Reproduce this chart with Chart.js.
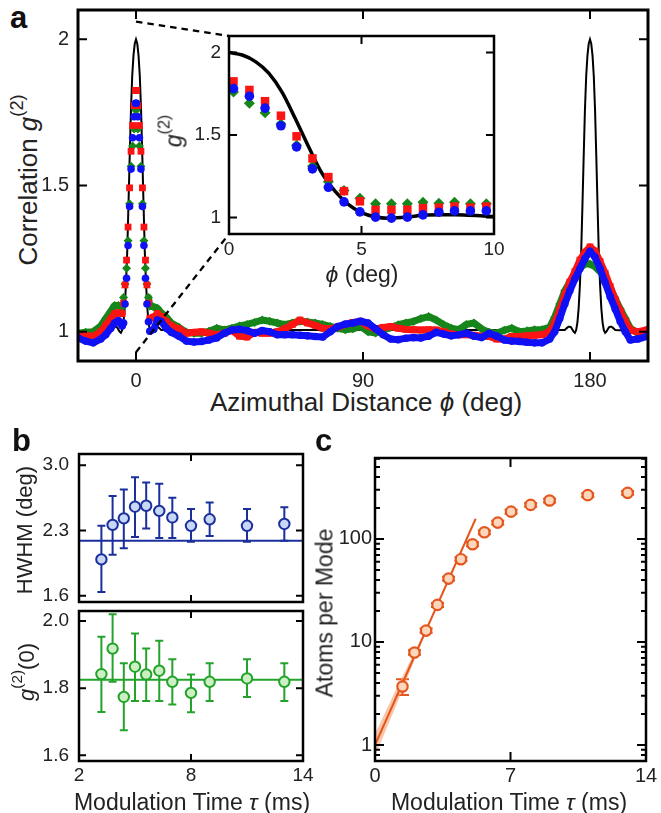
<!DOCTYPE html>
<html lang="en">
<head>
<meta charset="UTF-8">
<title>g2 correlation figure</title>
<script src="https://cdn.jsdelivr.net/npm/chart.js@4.4.0/dist/chart.umd.min.js"></script>
<style>
  body { margin: 0; background: #fff; }
  #fig { position: relative; width: 661px; height: 813px; overflow: hidden;
         font-family: "Liberation Sans", Arial, Helvetica, sans-serif; color: #222; }
  #fig canvas { position: absolute; }
  .lbl { position: absolute; white-space: nowrap; line-height: 1; }
  .rot { transform: translate(-50%, -50%) rotate(-90deg); }
  .ctr { transform: translate(-50%, -50%); }
  .panel { font-weight: bold; font-size: 31px; color: #111; }
  sup { font-size: 70%; vertical-align: 0; position: relative; top: -0.75em; }
</style>
</head>
<body>
<div id="fig">
  <canvas id="main" style="z-index:1"></canvas>
  <canvas id="inset" style="z-index:2"></canvas>
  <canvas id="hw"></canvas>
  <canvas id="g0"></canvas>
  <canvas id="atoms"></canvas>

  <div class="lbl panel" style="left:10px;top:2px">a</div>
  <div class="lbl panel" style="left:12px;top:425px">b</div>
  <div class="lbl panel" style="left:315px;top:425px">c</div>

  <div class="lbl rot" style="left:28px;top:180px;font-size:26px">Correlation <i>g</i><sup>(2)</sup></div>
  <div class="lbl ctr" style="left:366px;top:402px;font-size:26px">Azimuthal Distance <i>&#x3D5;</i> (deg)</div>
  <div class="lbl rot" style="left:174px;top:131px;font-size:23px;z-index:3"><i>g</i><sup>(2)</sup></div>
  <div class="lbl ctr" style="left:362px;top:274px;font-size:23px;z-index:3"><i>&#x3D5;</i> (deg)</div>

  <div class="lbl rot" style="left:25px;top:530px;font-size:22px">HWHM (deg)</div>
  <div class="lbl rot" style="left:27px;top:672px;font-size:22px"><i>g</i><sup>(2)</sup>(0)</div>
  <div class="lbl ctr" style="left:192px;top:802px;font-size:23px">Modulation Time <i>&tau;</i> (ms)</div>

  <div class="lbl rot" style="left:325px;top:613px;font-size:23px">Atoms per Mode</div>
  <div class="lbl ctr" style="left:509px;top:802px;font-size:23px">Modulation Time <i>&tau;</i> (ms)</div>
</div>

<script>
// ---------- panel a: main correlation trace ----------
const phiMain = [-23, -20, -17, -14, -12, -10, -8.5, -7, -5.5,
  -4.94, -4.34, -3.75, -3.15, -2.55, -1.96, -1.36, -0.77, -0.17,
  0.17, 0.77, 1.36, 1.96, 2.55, 3.15, 3.75, 4.34, 4.94,
  5.5, 7, 8.5, 10, 12, 14, 17, 20,
  23, 26, 29, 32, 35, 38, 41, 44, 47, 50, 53, 56, 59, 62, 65, 68, 71, 74, 77, 80,
  83, 86, 89, 92, 95, 98, 101, 104, 107, 110, 113, 116, 119, 122, 125, 128, 131, 134, 137, 140,
  143, 146, 149, 152, 155, 158, 161, 164,
  166, 168, 170, 172, 174, 176, 178, 180, 182, 184, 186, 188, 190, 192, 194, 196,
  199, 203];

const g2Green = [0.995, 0.998, 1.0, 1.02, 1.045, 1.07, 1.09, 1.09, 1.085,
  1.117, 1.163, 1.217, 1.311, 1.438, 1.566, 1.635, 1.693, 1.76,
  1.76, 1.693, 1.635, 1.566, 1.438, 1.311, 1.217, 1.163, 1.117,
  1.088, 1.085, 1.08, 1.065, 1.05, 1.03, 1.015, 0.998,
  0.995, 0.995, 1.002, 1.012, 1.006, 1.012, 1.02, 1.025, 1.032, 1.04, 1.036, 1.03, 1.024, 1.03, 1.036, 1.033, 1.03, 1.025, 1.018, 1.012,
  1.007, 1.01, 1.018, 1.0, 0.996, 1.005, 1.015, 1.024, 1.03, 1.035, 1.045, 1.052, 1.04, 1.024, 1.012, 1.007, 1.025, 1.03, 1.01, 0.998,
  0.995, 1.005, 1.012, 1.0, 1.003, 1.007, 1.007, 1.015,
  1.05, 1.095, 1.14, 1.17, 1.195, 1.218, 1.232, 1.232, 1.222, 1.205, 1.185, 1.15, 1.113, 1.078, 1.045, 1.012,
  0.995, 0.99];

const g2Red = [0.99, 0.988, 0.984, 1.0, 1.022, 1.045, 1.062, 1.065, 1.062,
  1.098, 1.16, 1.245, 1.358, 1.492, 1.617, 1.705, 1.773, 1.825,
  1.825, 1.773, 1.705, 1.617, 1.492, 1.358, 1.245, 1.16, 1.098,
  1.046, 1.05, 1.062, 1.052, 1.035, 1.02, 1.01, 0.995,
  0.998, 1.0, 0.995, 0.99, 0.995, 1.005, 0.985, 0.982, 0.998, 0.995, 0.995, 1.0, 1.01, 1.025, 1.04, 1.03, 1.022, 1.012, 1.01, 1.016,
  1.025, 1.032, 1.036, 1.02, 1.01, 1.015, 1.018, 1.012, 1.008, 1.007, 1.006, 1.007, 1.006, 1.0, 0.992, 0.99, 0.99, 0.988, 0.985, 0.984,
  0.975, 0.975, 0.984, 0.984, 0.986, 0.988, 0.99, 1.0,
  1.03, 1.075, 1.125, 1.17, 1.205, 1.245, 1.272, 1.29, 1.276, 1.24, 1.2, 1.155, 1.11, 1.07, 1.035, 1.005,
  1.0, 1.007];

const g2Blue = [0.979, 0.968, 0.962, 0.975, 0.99, 1.012, 1.03, 1.038, 1.02,
  1.03, 1.095, 1.183, 1.295, 1.428, 1.556, 1.663, 1.735, 1.781,
  1.781, 1.735, 1.663, 1.556, 1.428, 1.295, 1.183, 1.095, 1.034,
  1.002, 1.008, 1.04, 1.035, 1.012, 0.998, 0.985, 0.968,
  0.965, 0.967, 0.972, 0.979, 0.995, 1.006, 1.008, 1.004, 0.995, 1.004, 1.0, 0.99, 0.99, 0.99, 0.988, 0.986, 0.984, 0.982, 1.0, 1.018,
  1.026, 1.03, 1.036, 1.03, 1.01, 0.99, 0.975, 0.973, 0.978, 0.98, 0.979, 0.985, 0.998, 0.992, 0.986, 0.99, 0.995, 0.985, 0.98, 0.995,
  0.985, 0.972, 0.968, 0.967, 0.964, 0.962, 0.962, 0.975,
  1.0, 1.045, 1.095, 1.14, 1.18, 1.215, 1.25, 1.275, 1.255, 1.215, 1.168, 1.12, 1.078, 1.035, 1.0, 0.972,
  0.975, 0.985];

// theory curve (distance from peak centre in deg)
const theoryOffset = [0, 0.5, 1, 1.5, 2, 2.5, 3, 3.5, 4, 4.5, 5, 5.5, 6, 6.5, 7, 7.5, 8, 8.5, 9, 9.5, 10];
const theoryG2 = [2.0, 1.985, 1.945, 1.875, 1.76, 1.6, 1.43, 1.27, 1.16, 1.08, 1.03, 1.005, 0.996, 1.0,
  1.008, 1.015, 1.017, 1.017, 1.014, 1.01, 1.006];
const peakCenters = [0, 180];
const uncorrelated = 1;

const mainXTicks = [0, 90, 180];
const mainYTicks = [1, 1.5, 2];

// ---------- inset: zoom on the first peak ----------
const insetPhi = [0.17, 0.77, 1.36, 1.96, 2.55, 3.15, 3.75, 4.34, 4.94, 5.53, 6.13, 6.73, 7.32, 7.92, 8.51, 9.11, 9.71];
const insetGreen = [1.76, 1.693, 1.635, 1.566, 1.438, 1.311, 1.217, 1.163, 1.117, 1.083, 1.083, 1.083, 1.093, 1.087, 1.093, 1.083, 1.083];
const insetRed = [1.825, 1.773, 1.705, 1.617, 1.492, 1.358, 1.245, 1.16, 1.098, 1.046, 1.046, 1.047, 1.057, 1.06, 1.066, 1.06, 1.066];
const insetBlue = [1.781, 1.735, 1.663, 1.556, 1.428, 1.295, 1.183, 1.095, 1.034, 1.002, 0.996, 1.002, 1.016, 1.032, 1.04, 1.04, 1.04];
const insetXTicks = [0, 5, 10];
const insetYTicks = [1, 1.5, 2];
const zoomFrom = { phi: 0, top: 2.06, bottom: 0.93 };

// ---------- panel b ----------
const tauB = [3.2, 3.8, 4.4, 5.0, 5.6, 6.3, 7.0, 8.0, 9.0, 11.0, 13.0];
const hwhm = [1.99, 2.36, 2.43, 2.555, 2.565, 2.51, 2.44, 2.35, 2.42, 2.35, 2.37];
const hwhmLo = [1.64, 2.04, 2.11, 2.23, 2.32, 2.22, 2.22, 2.18, 2.24, 2.18, 2.19];
const hwhmHi = [2.35, 2.67, 2.74, 2.87, 2.815, 2.80, 2.65, 2.53, 2.60, 2.53, 2.55];
const hwhmFit = 2.19;
const g2Zero = [1.842, 1.918, 1.774, 1.864, 1.841, 1.852, 1.819, 1.786, 1.819, 1.829, 1.819];
const g2ZeroLo = [1.729, 1.819, 1.675, 1.762, 1.762, 1.762, 1.751, 1.728, 1.762, 1.774, 1.762];
const g2ZeroHi = [1.953, 2.02, 1.874, 1.963, 1.918, 1.941, 1.886, 1.841, 1.874, 1.886, 1.874];
const g2ZeroFit = 1.825;
const tauBTicks = [2, 8, 14];
const hwhmTicks = [1.6, 2.3, 3.0];
const g2ZeroTicks = [1.6, 1.8, 2.0];

// ---------- panel c ----------
const tauC = [1.42, 2.04, 2.64, 3.23, 3.80, 4.44, 5.04, 5.65, 6.34, 7.03, 8.04, 9.02, 10.99, 13.05];
const atoms = [3.7, 7.9, 12.9, 22.9, 41.2, 63.6, 88.8, 116, 144, 184, 214, 236, 266, 280];
const atomsLo = [3.06, 7.5, 12.3, 21.9, 39.4, 61, 85, 111, 138, 176, 205, 226, 255, 268];
const atomsHi = [4.35, 8.3, 13.5, 23.9, 43, 66.3, 92.6, 121, 150, 192, 223, 246, 277, 292];
const fitTau = [0, 5.2];
const fitAtoms = [1.0, 157];
const bandTau = [0, 1, 2, 2.8];
const bandLo = [0.78, 2.2, 6.4, 15.0];
const bandHi = [1.28, 3.2, 7.7, 15.6];
const tauCTicks = [0, 7, 14];
const atomsTicks = [1, 10, 100];

// ---------- layout (frame = plot box in page pixels) ----------
const FRAMES = {
  main:  { l: 78,  t: 10,  r: 648, b: 361, yW: 78, padT: 10, padR: 13, xH: 32 },
  inset: { l: 229, t: 36,  r: 494, b: 234, yW: 45, padT: 8,  padR: 14, xH: 30 },
  hw:    { l: 79,  t: 454, r: 303, b: 602, yW: 79, padT: 10, padR: 14, xH: 4 },
  g0:    { l: 79,  t: 611, r: 303, b: 761, yW: 79, padT: 6,  padR: 14, xH: 28 },
  atoms: { l: 375, t: 458, r: 646, b: 761, yW: 50, padT: 8,  padR: 14, xH: 28 }
};
const FONT = '"Liberation Sans", Arial, Helvetica, sans-serif';

function place(id) {
  const f = FRAMES[id];
  const cv = document.getElementById(id);
  cv.width = f.r - f.l + f.yW + f.padR;
  cv.height = f.b - f.t + f.padT + f.xH;
  cv.style.left = (f.l - f.yW) + 'px';
  cv.style.top = (f.t - f.padT) + 'px';
  return cv;
}

function axis(o) {
  return {
    type: o.type || 'linear', min: o.min, max: o.max,
    afterBuildTicks: s => { s.ticks = o.ticks.map(v => ({ value: v })); },
    afterFit: s => {
      if (s.isHorizontal()) s.height = o.size; else s.width = o.size;
      s.paddingLeft = s.paddingRight = s.paddingTop = s.paddingBottom = 0;
    },
    grid: { display: false, drawTicks: false },
    border: { display: false },
    ticks: {
      display: o.labels !== false, padding: o.pad, color: '#222',
      font: { family: FONT, size: o.font }, maxRotation: 0, autoSkip: false,
      callback: o.fmt || (v => String(v))
    }
  };
}

function baseOptions(id, x, y, plugins) {
  const f = FRAMES[id];
  return {
    responsive: false, animation: false, devicePixelRatio: 1,
    layout: { padding: { top: f.padT, right: f.padR, left: 0, bottom: 0 }, autoPadding: false },
    scales: { x, y },
    plugins: Object.assign({ legend: { display: false }, tooltip: { enabled: false } }, plugins)
  };
}

// inward ticks on all four sides + box
const frameTicks = {
  id: 'frameTicks',
  beforeDraw(chart, args, o) {
    if (!o.bg) return;
    const { ctx, chartArea: a } = chart;
    ctx.save();
    ctx.fillStyle = o.bg;
    ctx.fillRect(a.left, a.top, a.right - a.left, a.bottom - a.top);
    ctx.restore();
  },
  afterDatasetsDraw(chart, args, o) {
    const { ctx, chartArea: a, scales: { x, y } } = chart;
    ctx.save();
    ctx.strokeStyle = '#000';
    ctx.lineWidth = o.tickWidth || 2;
    ctx.beginPath();
    x.ticks.forEach(t => {
      const p = x.getPixelForValue(t.value);
      ctx.moveTo(p, a.top); ctx.lineTo(p, a.top + o.len);
      ctx.moveTo(p, a.bottom); ctx.lineTo(p, a.bottom - o.len);
    });
    const yt = (v, l) => {
      const p = y.getPixelForValue(v);
      ctx.moveTo(a.left, p); ctx.lineTo(a.left + l, p);
      ctx.moveTo(a.right, p); ctx.lineTo(a.right - l, p);
    };
    y.ticks.forEach(t => yt(t.value, o.len));
    if (o.minorLen) {
      for (let d = Math.floor(Math.log10(y.min)); d <= Math.ceil(Math.log10(y.max)); d++) {
        for (let m = 2; m < 10; m++) {
          const v = m * Math.pow(10, d);
          if (v > y.min && v < y.max) yt(v, o.minorLen);
        }
      }
    }
    ctx.stroke();
    ctx.lineWidth = o.frame || 2.5;
    ctx.strokeRect(a.left, a.top, a.right - a.left, a.bottom - a.top);
    ctx.restore();
  }
};

const errorBars = {
  id: 'errorBars',
  beforeDatasetsDraw(chart, args, o) {
    if (!o.lo) return;
    const { ctx, scales: { x, y } } = chart;
    ctx.save();
    ctx.strokeStyle = o.color;
    ctx.lineWidth = o.width;
    ctx.beginPath();
    o.x.forEach((t, i) => {
      const px = x.getPixelForValue(t);
      const y0 = y.getPixelForValue(o.lo[i]), y1 = y.getPixelForValue(o.hi[i]);
      ctx.moveTo(px, y0); ctx.lineTo(px, y1);
      ctx.moveTo(px - o.cap, y0); ctx.lineTo(px + o.cap, y0);
      ctx.moveTo(px - o.cap, y1); ctx.lineTo(px + o.cap, y1);
    });
    ctx.stroke();
    ctx.restore();
  }
};

const pts = (xs, ys) => xs.map((x, i) => ({ x, y: ys[i] }));

// ---------- inset chart ----------
place('inset');
const insetMarkers = (ys, color, style, r, order) => ({
  data: pts(insetPhi, ys), showLine: false, order,
  pointStyle: style, pointRadius: r, pointBackgroundColor: color, pointBorderColor: color, pointBorderWidth: 0
});
const insetChart = new Chart(document.getElementById('inset'), {
  type: 'line',
  data: {
    datasets: [
      { data: pts(theoryOffset, theoryG2), borderColor: '#000', borderWidth: 3.5, pointRadius: 0,
        cubicInterpolationMode: 'monotone', order: 4 },
      insetMarkers(insetGreen, '#17861a', 'rectRot', 5.5, 3),
      insetMarkers(insetRed, '#fa1414', 'rect', 6, 2),
      insetMarkers(insetBlue, '#1010f5', 'circle', 4.8, 1)
    ]
  },
  options: baseOptions('inset',
    axis({ min: 0, max: 10, ticks: insetXTicks, size: FRAMES.inset.xH, pad: 4, font: 19 }),
    axis({ min: 0.9, max: 2.1, ticks: insetYTicks, size: FRAMES.inset.yW, pad: 8, font: 19 }),
    { frameTicks: { len: 8, frame: 2.5, bg: '#fff' } }),
  plugins: [frameTicks]
});

// ---------- main chart ----------
place('main');
const mainSeries = (ys, color, style, r, order) => ({
  data: pts(phiMain, ys), order,
  borderColor: color, borderWidth: 7, borderJoinStyle: 'round', borderCapStyle: 'round', tension: 0,
  pointStyle: style, pointRadius: r, pointBackgroundColor: color, pointBorderColor: color, pointBorderWidth: 0,
  segment: {
    borderColor: c => (Math.abs(c.p1.parsed.x - c.p0.parsed.x) < 0.8 &&
      Math.abs(c.p1.parsed.y - c.p0.parsed.y) > 0.03) ? 'rgba(0,0,0,0)' : undefined
  }
});

function theoryTrace(lo, hi) {
  const out = [{ x: lo, y: uncorrelated }];
  peakCenters.forEach(c => {
    for (let i = theoryOffset.length - 1; i > 0; i--) out.push({ x: c - theoryOffset[i], y: theoryG2[i] });
    for (let i = 0; i < theoryOffset.length; i++) out.push({ x: c + theoryOffset[i], y: theoryG2[i] });
  });
  out.push({ x: hi, y: uncorrelated });
  return out;
}

const connectors = {
  id: 'connectors',
  afterDraw(chart) {
    const { ctx, scales: { x, y } } = chart;
    const fi = FRAMES.inset, fm = FRAMES.main;
    const dx = (fi.l - fi.yW) - (fm.l - fm.yW), dy = (fi.t - fi.padT) - (fm.t - fm.padT);
    const ia = insetChart.chartArea;
    const x0 = x.getPixelForValue(zoomFrom.phi);
    ctx.save();
    ctx.strokeStyle = '#000';
    ctx.lineWidth = 2.3;
    ctx.setLineDash([6.5, 5]);
    ctx.beginPath();
    ctx.moveTo(x0, y.getPixelForValue(zoomFrom.top)); ctx.lineTo(ia.left + dx, ia.top + dy);
    ctx.moveTo(x0, y.getPixelForValue(zoomFrom.bottom)); ctx.lineTo(ia.left + dx, ia.bottom + dy);
    ctx.stroke();
    ctx.restore();
  }
};

new Chart(document.getElementById('main'), {
  type: 'line',
  data: {
    datasets: [
      { data: theoryTrace(-23, 203), borderColor: '#000', borderWidth: 2, pointRadius: 0, tension: 0, order: 5 },
      mainSeries(g2Green, '#17861a', 'rectRot', 4.5, 3),
      mainSeries(g2Red, '#fa1414', 'rect', 4.8, 2),
      mainSeries(g2Blue, '#1010f5', 'circle', 3.8, 1)
    ]
  },
  options: baseOptions('main',
    axis({ min: -23, max: 203, ticks: mainXTicks, size: FRAMES.main.xH, pad: 8, font: 20 }),
    axis({ min: 0.9, max: 2.1, ticks: mainYTicks, size: FRAMES.main.yW, pad: 9, font: 20 }),
    { frameTicks: { len: 9, frame: 3 } }),
  plugins: [frameTicks, connectors]
});

// ---------- panel b ----------
function panelB(id, ys, lo, hi, fit, yTicks, yMin, yMax, edge, fill, showX) {
  place(id);
  return new Chart(document.getElementById(id), {
    type: 'line',
    data: {
      datasets: [
        { data: pts(tauB, ys), showLine: false, order: 1, pointStyle: 'circle', pointRadius: 5.2,
          pointBackgroundColor: fill, pointBorderColor: edge, pointBorderWidth: 2 },
        { data: [{ x: tauBTicks[0], y: fit }, { x: tauBTicks[tauBTicks.length - 1], y: fit }],
          borderColor: edge, borderWidth: 2, pointRadius: 0, order: 2 }
      ]
    },
    options: baseOptions(id,
      axis({ min: 2, max: 14, ticks: tauBTicks, size: FRAMES[id].xH, pad: 3, font: 19, labels: showX }),
      axis({ min: yMin, max: yMax, ticks: yTicks, size: FRAMES[id].yW, pad: 10, font: 19, fmt: v => v.toFixed(1) }),
      { frameTicks: { len: 7, frame: 2.5 },
        errorBars: { x: tauB, lo, hi, color: edge, width: 2, cap: 4 } }),
    plugins: [frameTicks, errorBars]
  });
}
panelB('hw', hwhm, hwhmLo, hwhmHi, hwhmFit, hwhmTicks, 1.533, 3.12, '#1b2f9c', '#c9d7f7', false);
panelB('g0', g2Zero, g2ZeroLo, g2ZeroHi, g2ZeroFit, g2ZeroTicks, 1.583, 2.03, '#22a32a', '#ccf0c4', true);

// ---------- panel c ----------
place('atoms');
const ORANGE = '#e4561e';
new Chart(document.getElementById('atoms'), {
  type: 'line',
  data: {
    datasets: [
      { data: pts(tauC, atoms), showLine: false, order: 1, pointStyle: 'circle', pointRadius: 5.2,
        pointBackgroundColor: '#fcd7bc', pointBorderColor: ORANGE, pointBorderWidth: 2.2 },
      { data: pts(fitTau, fitAtoms), borderColor: ORANGE, borderWidth: 2, pointRadius: 0, order: 2 },
      { data: pts(bandTau, bandHi), borderWidth: 0, pointRadius: 0, fill: '+1',
        backgroundColor: 'rgba(246,160,110,0.6)', order: 3 },
      { data: pts(bandTau, bandLo), borderWidth: 0, pointRadius: 0, order: 4 }
    ]
  },
  options: baseOptions('atoms',
    axis({ min: 0, max: 14, ticks: tauCTicks, size: FRAMES.atoms.xH, pad: 3, font: 20 }),
    axis({ type: 'logarithmic', min: 0.7, max: 610, ticks: atomsTicks, size: FRAMES.atoms.yW, pad: 3, font: 20 }),
    { frameTicks: { len: 9, minorLen: 5, frame: 2.5 },
      errorBars: { x: tauC, lo: atomsLo, hi: atomsHi, color: ORANGE, width: 2, cap: 6.5 } }),
  plugins: [frameTicks, errorBars]
});
</script>
</body>
</html>
